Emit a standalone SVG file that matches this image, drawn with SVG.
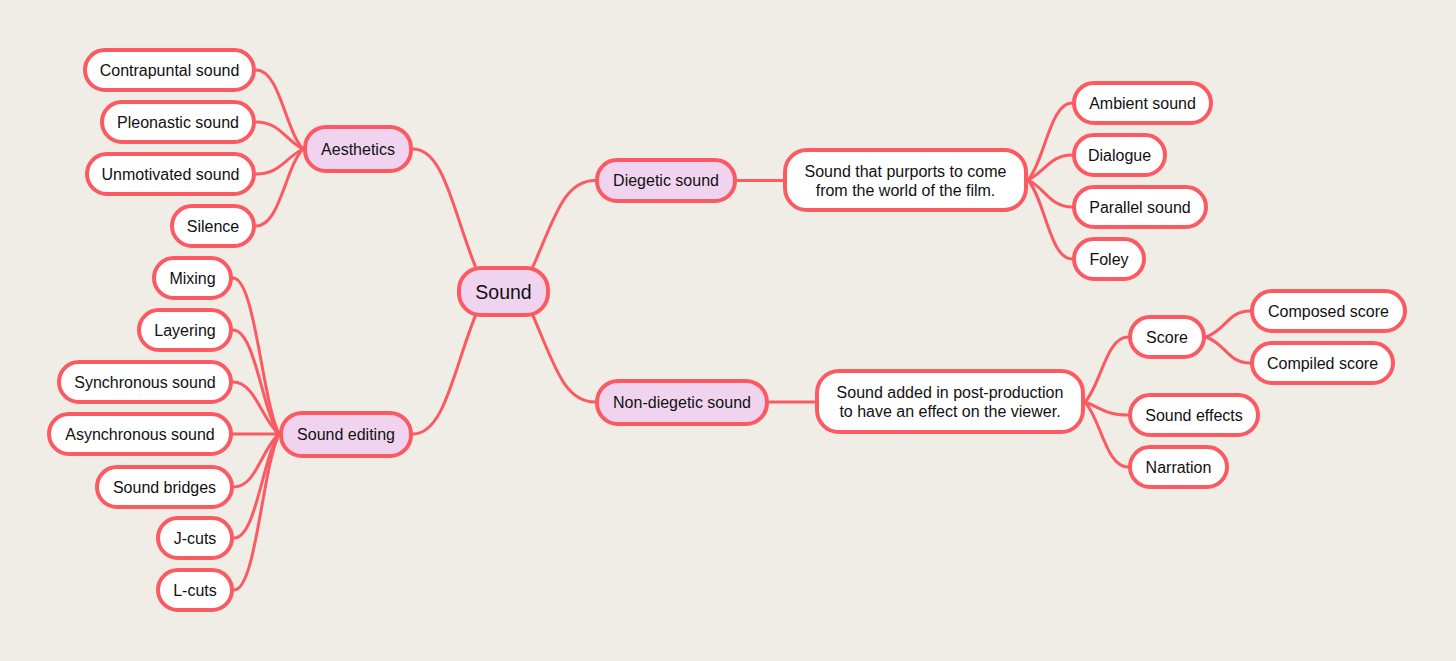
<svg xmlns="http://www.w3.org/2000/svg" width="1456" height="661" viewBox="0 0 1456 661">
<style>
.bg{fill:#f0ece6}
.box rect{stroke:#fb5a63;stroke-width:4}
.leaf rect{fill:#ffffff}
.mid rect{fill:#f0d4ef}
text{font-family:"Liberation Sans",Arial,sans-serif;font-size:16px;fill:#111;text-anchor:middle}
.big{font-size:19.5px}
#connectors path{fill:none;stroke:#fb5a63;stroke-width:3;stroke-linecap:round}
</style>
<rect class="bg" x="0" y="0" width="1456" height="661"/>
<g id="connectors">
<!-- center -->
<path d="M413,149 C447,149 455,225 482,282"/>
<path d="M413,434 C447,434 455,358 482,300"/>
<path d="M595,180.5 C561,180.5 553,225 526,282"/>
<path d="M595,402 C561,402 553,358 526,300"/>
<path d="M737,180.5 L783,180.5"/>
<path d="M769,402 L815,402"/>
<!-- aesthetics -->
<path d="M256,70 C280,70 285,130 303,149"/>
<path d="M256,122 C280,122 285,140 303,149"/>
<path d="M256,174 C280,174 285,158 303,149"/>
<path d="M256,226 C280,226 285,168 303,149"/>
<!-- sound editing -->
<path d="M233,278 C255,278 262,400 279,434"/>
<path d="M233,330 C255,330 262,410 279,434"/>
<path d="M233,382 C255,382 262,420 279,434"/>
<path d="M233,434 L279,434"/>
<path d="M234,487 C256,487 262,448 279,434"/>
<path d="M234,538 C256,538 262,460 279,434"/>
<path d="M234,590 C256,590 262,470 279,434"/>
<!-- diegetic -->
<path d="M1072,103 C1050,103 1045,160 1028,180"/>
<path d="M1072,155 C1050,155 1045,172 1028,180"/>
<path d="M1072,207 C1050,207 1045,188 1028,180"/>
<path d="M1072,259 C1050,259 1045,200 1028,180"/>
<!-- non-diegetic -->
<path d="M1128,337 C1106,337 1101,385 1085,402"/>
<path d="M1128,415 C1106,415 1101,408 1085,402"/>
<path d="M1128,467 C1106,467 1101,420 1085,402"/>
<!-- score -->
<path d="M1250,311 C1228,311 1226,330 1206,337"/>
<path d="M1250,363 C1228,363 1226,344 1206,337"/>
</g>

<g id="n-sound" class="box mid"><rect x="459" y="268" width="89" height="47" rx="22"/><text class="big" x="503.5" y="298.5">Sound</text></g>

<g id="n-aesthetics" class="box mid"><rect x="305" y="127" width="106" height="44" rx="21"/><text x="358" y="154.5">Aesthetics</text></g>
<g id="n-editing" class="box mid"><rect x="281" y="413" width="130" height="43" rx="21"/><text x="346" y="440">Sound editing</text></g>
<g id="n-diegetic" class="box mid"><rect x="597" y="160" width="138" height="41" rx="20"/><text x="666" y="186">Diegetic sound</text></g>
<g id="n-nondiegetic" class="box mid"><rect x="597" y="381" width="170" height="43" rx="21"/><text x="682" y="407.5">Non-diegetic sound</text></g>

<g id="n-diegetic-desc" class="box leaf"><rect x="785" y="150" width="241" height="60" rx="22"/><text x="905.5" y="177">Sound that purports to come</text><text x="905.5" y="196">from the world of the film.</text></g>
<g id="n-nondiegetic-desc" class="box leaf"><rect x="817" y="371" width="266" height="61" rx="22"/><text x="950" y="398">Sound added in post-production</text><text x="950" y="417">to have an effect on the viewer.</text></g>

<g id="n-contrapuntal" class="box leaf"><rect x="85" y="50" width="169" height="40" rx="20"/><text x="169.5" y="75.5">Contrapuntal sound</text></g>
<g id="n-pleonastic" class="box leaf"><rect x="102" y="102" width="152" height="40" rx="20"/><text x="178" y="127.5">Pleonastic sound</text></g>
<g id="n-unmotivated" class="box leaf"><rect x="87" y="154" width="167" height="40" rx="20"/><text x="170.5" y="179.5">Unmotivated sound</text></g>
<g id="n-silence" class="box leaf"><rect x="172" y="206" width="82" height="40" rx="20"/><text x="213" y="231.5">Silence</text></g>

<g id="n-mixing" class="box leaf"><rect x="154" y="258" width="77" height="40" rx="20"/><text x="192.5" y="283.5">Mixing</text></g>
<g id="n-layering" class="box leaf"><rect x="139" y="310" width="92" height="40" rx="20"/><text x="185" y="335.5">Layering</text></g>
<g id="n-synchronous" class="box leaf"><rect x="59" y="362" width="172" height="40" rx="20"/><text x="145" y="387.5">Synchronous sound</text></g>
<g id="n-asynchronous" class="box leaf"><rect x="49" y="414" width="182" height="40" rx="20"/><text x="140" y="439.5">Asynchronous sound</text></g>
<g id="n-bridges" class="box leaf"><rect x="97" y="467" width="135" height="40" rx="20"/><text x="164.5" y="492.5">Sound bridges</text></g>
<g id="n-jcuts" class="box leaf"><rect x="158" y="518" width="74" height="40" rx="20"/><text x="195" y="543.5">J-cuts</text></g>
<g id="n-lcuts" class="box leaf"><rect x="158" y="570" width="74" height="40" rx="20"/><text x="195" y="595.5">L-cuts</text></g>

<g id="n-ambient" class="box leaf"><rect x="1074" y="83" width="137" height="40" rx="20"/><text x="1142.5" y="108.5">Ambient sound</text></g>
<g id="n-dialogue" class="box leaf"><rect x="1074" y="135" width="91" height="40" rx="20"/><text x="1119.5" y="160.5">Dialogue</text></g>
<g id="n-parallel" class="box leaf"><rect x="1074" y="187" width="132" height="40" rx="20"/><text x="1140" y="212.5">Parallel sound</text></g>
<g id="n-foley" class="box leaf"><rect x="1074" y="239" width="70" height="40" rx="20"/><text x="1109" y="264.5">Foley</text></g>

<g id="n-score" class="box leaf"><rect x="1130" y="317" width="74" height="40" rx="20"/><text x="1167" y="342.5">Score</text></g>
<g id="n-effects" class="box leaf"><rect x="1130" y="395" width="128" height="40" rx="20"/><text x="1194" y="420.5">Sound effects</text></g>
<g id="n-narration" class="box leaf"><rect x="1130" y="447" width="97" height="40" rx="20"/><text x="1178.5" y="472.5">Narration</text></g>
<g id="n-composed" class="box leaf"><rect x="1252" y="291" width="153" height="40" rx="20"/><text x="1328.5" y="316.5">Composed score</text></g>
<g id="n-compiled" class="box leaf"><rect x="1252" y="343" width="141" height="40" rx="20"/><text x="1322.5" y="368.5">Compiled score</text></g>
</svg>
